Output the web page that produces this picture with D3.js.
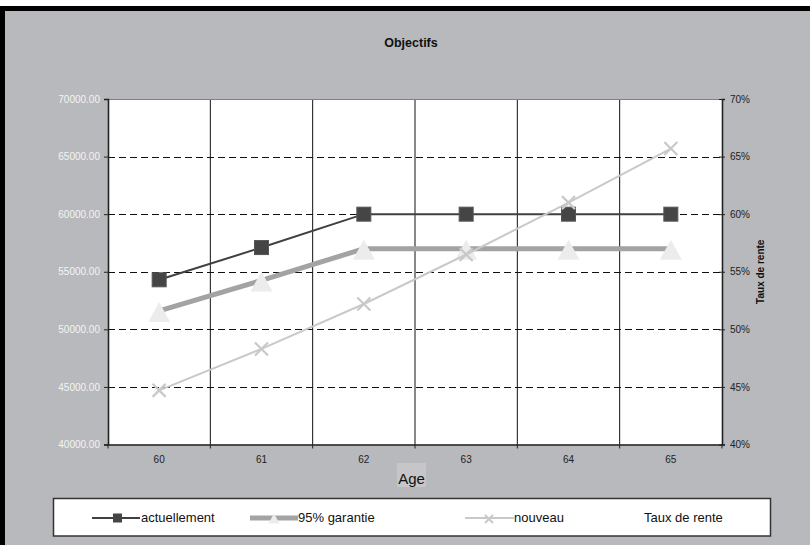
<!DOCTYPE html>
<html>
<head>
<meta charset="utf-8">
<script src="https://cdn.jsdelivr.net/npm/d3@7"></script>
<style>
  html, body { margin: 0; padding: 0; background: #ffffff; }
  svg { display: block; font-family: "Liberation Sans", Arial, sans-serif; }
</style>
</head>
<body>
<svg id="chart" width="810" height="545"></svg>
<script>
// Ages on the category axis
const ages = ["60", "61", "62", "63", "64", "65"];
// Amounts (left axis)
const actuellement = [54300, 57100, 60000, 60000, 60000, 60000];
const garantie95 = [51600, 54250, 57000, 57000, 57000, 57000];
// Rate (right axis, "Taux de rente")
const nouveau = [0.447, 0.483, 0.522, 0.565, 0.610, 0.657];

const leftTicks = [40000, 45000, 50000, 55000, 60000, 65000, 70000];
const rightTicks = [0.40, 0.45, 0.50, 0.55, 0.60, 0.65, 0.70];
const gridValues = [45000, 50000, 55000, 60000, 65000];

const legendItems = ["actuellement", "95% garantie", "nouveau", "Taux de rente"];

const svg = d3.select("#chart");
const W = 810, H = 545;
const plot = { left: 108, right: 722, top: 99, bottom: 444.5 };

// Background panel with black frame
svg.append("rect").attr("x", 0).attr("y", 0).attr("width", W).attr("height", H).attr("fill", "#ffffff");
svg.append("rect").attr("x", 2.5).attr("y", 8.5).attr("width", W + 10).attr("height", H + 10)
  .attr("fill", "#b8b9bd").attr("stroke", "#000").attr("stroke-width", 5);

// Title
svg.append("text").attr("x", 411).attr("y", 47).attr("text-anchor", "middle")
  .attr("font-size", 12.5).attr("font-weight", "bold").attr("fill", "#111").text("Objectifs");

// Scales
const x = d3.scaleBand().domain(ages).range([plot.left, plot.right]).padding(0);
const yL = d3.scaleLinear().domain([40000, 70000]).range([plot.bottom, plot.top]);
const yR = d3.scaleLinear().domain([0.40, 0.70]).range([plot.bottom, plot.top]);

// Plot area
svg.append("rect").attr("x", plot.left).attr("y", plot.top)
  .attr("width", plot.right - plot.left).attr("height", plot.bottom - plot.top).attr("fill", "#ffffff");

// Horizontal dashed gridlines
svg.append("g").selectAll("line").data(gridValues).join("line")
  .attr("x1", plot.left).attr("x2", plot.right)
  .attr("y1", d => Math.round(yL(d)) + 0.5).attr("y2", d => Math.round(yL(d)) + 0.5)
  .attr("stroke", "#111").attr("stroke-width", 1).attr("stroke-dasharray", "7,4");

// Vertical gridlines at category boundaries
const innerBounds = ages.slice(1).map(a => x(a));
svg.append("g").selectAll("line").data(innerBounds).join("line")
  .attr("x1", d => d).attr("x2", d => d)
  .attr("y1", plot.top).attr("y2", plot.bottom)
  .attr("stroke", "#111").attr("stroke-width", 1);

// Top border of plot area
svg.append("line").attr("x1", plot.left).attr("x2", plot.right)
  .attr("y1", plot.top + 0.5).attr("y2", plot.top + 0.5)
  .attr("stroke", "#808080").attr("stroke-width", 1.2);

// Left axis
const gL = svg.append("g").attr("transform", `translate(${plot.left},0)`)
  .call(d3.axisLeft(yL).tickValues(leftTicks).tickFormat(d3.format(".2f")).tickSize(4).tickPadding(4));
gL.select(".domain").attr("stroke", "#222").attr("stroke-width", 1.6);
gL.selectAll(".tick line").attr("stroke", "#222");
gL.selectAll(".tick text").attr("fill", "#f4f4f4").attr("font-size", 10)
  .attr("font-family", "'Liberation Sans', Arial, sans-serif");

// Right axis
const gR = svg.append("g").attr("transform", `translate(${plot.right},0)`)
  .call(d3.axisRight(yR).tickValues(rightTicks).tickFormat(d3.format(".0%")).tickSize(3).tickPadding(5));
gR.select(".domain").attr("stroke", "#222").attr("stroke-width", 1.6);
gR.selectAll(".tick line").attr("stroke", "#222").attr("x1", -3);
gR.selectAll(".tick text").attr("fill", "#222").attr("font-size", 10)
  .attr("font-family", "'Liberation Sans', Arial, sans-serif");

// Right axis title
svg.append("text").attr("transform", `translate(764,${(plot.top + plot.bottom) / 2}) rotate(-90)`)
  .attr("text-anchor", "middle").attr("font-size", 10).attr("font-weight", "bold")
  .attr("fill", "#111").text("Taux de rente");

// Bottom axis: labels centred on categories, ticks on boundaries
const gX = svg.append("g").attr("transform", `translate(0,${plot.bottom})`)
  .call(d3.axisBottom(x).tickSize(0).tickPadding(11));
gX.select(".domain").attr("stroke", "#222").attr("stroke-width", 1.6);
gX.selectAll(".tick text").attr("fill", "#222").attr("font-size", 10)
  .attr("font-family", "'Liberation Sans', Arial, sans-serif");
const allBounds = ages.map(a => x(a)).concat([x(ages[ages.length - 1]) + x.bandwidth()]);
gX.selectAll(".bt").data(allBounds).join("line").attr("class", "bt")
  .attr("x1", d => d).attr("x2", d => d).attr("y1", 0).attr("y2", 4)
  .attr("stroke", "#222").attr("stroke-width", 1);

// Axis title "Age" with its light box
svg.append("rect").attr("x", 397).attr("y", 463).attr("width", 29).attr("height", 24).attr("fill", "#c6c6c8");
svg.append("text").attr("x", 411.5).attr("y", 484).attr("text-anchor", "middle")
  .attr("font-size", 15).attr("fill", "#111").text("Age");

const cx = (d, i) => x(ages[i]) + x.bandwidth() / 2;

// Marker shapes
const tri = (s) => `M0,${-s * 0.55}L${s * 0.55},${s * 0.45}L${-s * 0.55},${s * 0.45}Z`;
const cross = (s) => `M${-s / 2},${-s / 2}L${s / 2},${s / 2}M${-s / 2},${s / 2}L${s / 2},${-s / 2}`;

// Series: actuellement
svg.append("path").datum(actuellement)
  .attr("d", d3.line().x(cx).y(d => yL(d)))
  .attr("fill", "none").attr("stroke", "#404040").attr("stroke-width", 2);
svg.append("g").selectAll("rect").data(actuellement).join("rect")
  .attr("x", (d, i) => cx(d, i) - 7).attr("y", d => yL(d) - 7)
  .attr("width", 14).attr("height", 14)
  .attr("fill", "#454545").attr("stroke", "#555").attr("stroke-width", 1);

// Series: 95% garantie
svg.append("path").datum(garantie95)
  .attr("d", d3.line().x(cx).y(d => yL(d)))
  .attr("fill", "none").attr("stroke", "#a3a3a3").attr("stroke-width", 5);
svg.append("g").selectAll("path").data(garantie95).join("path")
  .attr("transform", (d, i) => `translate(${cx(d, i)},${yL(d) + 2})`)
  .attr("d", tri(20)).attr("fill", "#ececec");

// Series: nouveau (right axis)
svg.append("path").datum(nouveau)
  .attr("d", d3.line().x(cx).y(d => yR(d)))
  .attr("fill", "none").attr("stroke", "#c9c9c9").attr("stroke-width", 2);
svg.append("g").selectAll("path").data(nouveau).join("path")
  .attr("transform", (d, i) => `translate(${cx(d, i)},${yR(d)})`)
  .attr("d", cross(13)).attr("fill", "none").attr("stroke", "#c9c9c9").attr("stroke-width", 2.2);

// Legend
svg.append("rect").attr("x", 53.5).attr("y", 498.5).attr("width", 717).attr("height", 37.5)
  .attr("fill", "#ffffff").attr("stroke", "#333").attr("stroke-width", 1.5);
const ly = 518;
const lg = svg.append("g");
// actuellement
lg.append("line").attr("x1", 92).attr("x2", 140).attr("y1", ly).attr("y2", ly)
  .attr("stroke", "#404040").attr("stroke-width", 2);
lg.append("rect").attr("x", 113).attr("y", ly - 4.5).attr("width", 9).attr("height", 9).attr("fill", "#454545");
// 95% garantie
lg.append("line").attr("x1", 250).attr("x2", 298).attr("y1", ly).attr("y2", ly)
  .attr("stroke", "#a3a3a3").attr("stroke-width", 5);
lg.append("path").attr("transform", `translate(274,${ly + 1})`).attr("d", tri(10)).attr("fill", "#ececec");
// nouveau
lg.append("line").attr("x1", 465).attr("x2", 514).attr("y1", ly).attr("y2", ly)
  .attr("stroke", "#c9c9c9").attr("stroke-width", 2);
lg.append("path").attr("transform", `translate(489,${ly + 1})`).attr("d", cross(8))
  .attr("fill", "none").attr("stroke", "#c9c9c9").attr("stroke-width", 2);
const textX = [141, 298, 514, 644];
lg.selectAll("text").data(legendItems).join("text")
  .attr("x", (d, i) => textX[i]).attr("y", ly + 2.5 + 1.5)
  .attr("font-size", 13).attr("fill", "#111").text(d => d);
</script>
</body>
</html>
